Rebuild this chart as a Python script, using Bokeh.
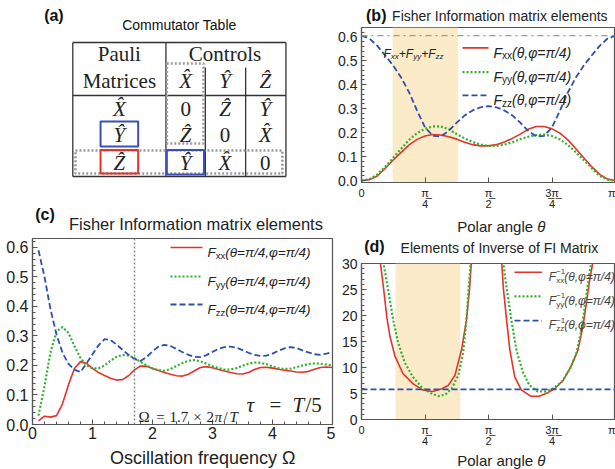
import numpy as np
from bokeh.plotting import figure
from bokeh.layouts import row, column
from bokeh.models import (Range1d, Label, FixedTicker, Span, BoxAnnotation,
                          ColumnDataSource, PrintfTickFormatter)
from bokeh.core.properties import value
from bokeh.embed import file_html
from bokeh.resources import INLINE

PI = np.pi
NAN = float("nan")

# ---------------- data ----------------
# (a) commutator table
table_title = "Commutator Table"
pauli_rows = ["X\u0302", "Y\u0302", "Z\u0302"]
control_cols = ["X\u0302", "Y\u0302", "Z\u0302"]
commutators = [["0", "Z\u0302", "Y\u0302"],
               ["Z\u0302", "0", "X\u0302"],
               ["Y\u0302", "X\u0302", "0"]]

# (b) FI matrix elements vs polar angle (theta = k*pi/32)
theta_b = [k * PI / 32 for k in range(33)]
fxx_b = [0.000, 0.004, 0.019, 0.052, 0.086, 0.118, 0.149, 0.172, 0.186, 0.192, 0.190,
         0.183, 0.173, 0.160, 0.150, 0.145, 0.145, 0.150, 0.161, 0.176, 0.194, 0.214,
         0.226, 0.226, 0.216, 0.198, 0.170, 0.133, 0.095, 0.058, 0.026, 0.006, 0.000]
fyy_b = [0.000, 0.006, 0.026, 0.058, 0.095, 0.133, 0.170, 0.198, 0.216, 0.226, 0.226,
         0.214, 0.194, 0.176, 0.161, 0.150, 0.145, 0.145, 0.150, 0.160, 0.173, 0.183,
         0.190, 0.192, 0.186, 0.172, 0.149, 0.118, 0.086, 0.052, 0.019, 0.004, 0.000]
fzz_b = [0.605, 0.593, 0.562, 0.522, 0.480, 0.430, 0.368, 0.292, 0.222, 0.187, 0.184,
         0.208, 0.242, 0.272, 0.293, 0.306, 0.311, 0.306, 0.293, 0.272, 0.242, 0.208,
         0.184, 0.187, 0.222, 0.292, 0.368, 0.430, 0.480, 0.522, 0.562, 0.593, 0.605]
fsum_b = 0.605
band_b = (0.385, 1.195)

# (c) FI elements vs oscillation frequency
omega_c = [round(0.1 * k, 1) for k in range(1, 51)]
fxx_c = [0.012, 0.028, 0.025, 0.030, 0.070, 0.135, 0.190, 0.213, 0.207, 0.190,
         0.176, 0.166, 0.157, 0.151, 0.152, 0.165, 0.185, 0.198, 0.197, 0.190,
         0.183, 0.176, 0.170, 0.165, 0.164, 0.170, 0.182, 0.193, 0.196, 0.192,
         0.186, 0.181, 0.176, 0.172, 0.171, 0.176, 0.186, 0.193, 0.194, 0.191,
         0.187, 0.184, 0.181, 0.178, 0.177, 0.180, 0.187, 0.193, 0.195, 0.193]
fyy_c = [0.030, 0.130, 0.245, 0.315, 0.330, 0.310, 0.265, 0.225, 0.200, 0.190,
         0.190, 0.200, 0.216, 0.229, 0.236, 0.234, 0.225, 0.212, 0.200, 0.190,
         0.184, 0.182, 0.188, 0.198, 0.208, 0.216, 0.218, 0.214, 0.206, 0.198,
         0.191, 0.186, 0.186, 0.191, 0.199, 0.206, 0.210, 0.209, 0.204, 0.197,
         0.191, 0.188, 0.189, 0.194, 0.200, 0.205, 0.207, 0.206, 0.203, 0.200]
fzz_c = [0.590, 0.500, 0.390, 0.305, 0.243, 0.205, 0.185, 0.178, 0.207, 0.238,
         0.268, 0.289, 0.286, 0.271, 0.253, 0.236, 0.222, 0.215, 0.228, 0.248,
         0.264, 0.270, 0.266, 0.256, 0.245, 0.236, 0.229, 0.228, 0.235, 0.246,
         0.256, 0.262, 0.264, 0.260, 0.252, 0.243, 0.236, 0.232, 0.233, 0.240,
         0.250, 0.258, 0.262, 0.259, 0.251, 0.244, 0.238, 0.236, 0.240, 0.245]
omega_mark = 1.7

# (d) elements of the inverse FI matrix
theta_dxx = [0.200, 0.233, 0.273, 0.313, 0.353, 0.413, 0.514, 0.635, 0.755, 0.876, 0.996,
             1.076, 1.156, 1.237, 1.297, 1.337, 1.357, 1.380, NAN,
             1.715, 1.735, 1.755, 1.795, 1.835, 1.895, 1.976, 2.096, 2.196, 2.297, 2.397,
             2.497, 2.598, 2.678, 2.738, 2.779, 2.819, 2.859, 2.890]
finv_xx = [45.0, 30.2, 25.2, 19.7, 15.9, 12.2, 8.8, 6.9, 5.7, 5.4, 5.9,
           6.6, 8.5, 13.4, 19.0, 25.2, 29.9, 45.0, NAN,
           45.0, 30.0, 25.2, 19.0, 13.4, 8.2, 5.7, 4.46, 4.46, 5.08, 6.0,
           7.6, 10.4, 13.4, 17.8, 22.1, 26.5, 30.0, 45.0]
theta_dyy = [0.240, 0.273, 0.333, 0.394, 0.454, 0.534, 0.635, 0.755, 0.876, 0.956, 1.036,
             1.117, 1.197, 1.257, 1.297, 1.325, 1.349, 1.370, NAN,
             1.725, 1.755, 1.795, 1.855, 1.915, 1.996, 2.076, 2.177, 2.277, 2.377, 2.478,
             2.578, 2.658, 2.719, 2.759, 2.798, 2.839, 2.870]
finv_yy = [45.0, 30.0, 24.6, 19.0, 14.7, 11.0, 8.2, 6.0, 4.9, 4.5, 4.8,
           6.0, 8.5, 12.8, 19.0, 25.2, 30.0, 45.0, NAN,
           45.0, 30.0, 25.2, 19.0, 13.4, 9.1, 6.6, 5.4, 5.4, 6.0, 7.25,
           9.7, 12.8, 17.2, 21.5, 25.8, 30.0, 45.0]
finv_zz = 5.8
band_d = (0.42, 1.22)

theta_ticks = [0, PI / 4, PI / 2, 3 * PI / 4, PI]
theta_tick_labels = ["0", "\u03c0\u0332\n4", "\u03c0\u0332\n2", "3\u0332\u03c0\u0332\n4", "\u03c0"]

# ---------------- style ----------------
RED = "#e5332a"
GREEN = "#2eb22e"
BLUE = "#2f4fae"
SHADE = "#fcebc9"
FRAME = "#555555"
TXT = "#222222"
SANS = "Liberation Sans"
SERIF = "Liberation Serif"

W = {' ': 0.278, '(': 0.333, ')': 0.333, ',': 0.278, '.': 0.278, '/': 0.278, '=': 0.584,
     '+': 0.584, '\u2212': 0.584, '-': 0.333, 'F': 0.611, 'x': 0.5, 'y': 0.5, 'z': 0.5,
     '\u03b8': 0.556, '\u03c6': 0.72, '\u03c0': 0.6, '1': 0.556, '4': 0.556}


def tw(s, size):
    return sum(W.get(c, 0.556) for c in s) * size


def mk_map(x0, x1, X0, X1, y0, y1, Yb, Yt):
    fx = lambda X: x0 + (X - X0) * (x1 - x0) / (X1 - X0)
    fy = lambda Y: y0 + (Yb - Y) * (y1 - y0) / (Yb - Yt)
    return fx, fy


IDENT = (lambda X: X, lambda Y: Y)


def put(p, m, X, Y, text, size, style="normal", align="left", baseline="middle",
        font=SANS, color=TXT, dx=0.0, dy=0.0):
    fx, fy = m
    p.add_layout(Label(x=fx(X), y=fy(Y), x_offset=dx, y_offset=-dy, text=text,
                       text_font=font, text_font_size=f"{size}px", text_font_style=style,
                       text_align=align, text_baseline=baseline, text_color=color))


def rich(p, m, X, Y, parts, font=SANS, color=TXT):
    off = 0.0
    for txt, size, style, dy, adv in parts:
        put(p, m, X, Y, txt, size, style, "left", "alphabetic", font, color, dx=off, dy=dy)
        if adv:
            off += tw(txt, size)


def strip(w, h, X0, Y0):
    """text-only panel whose data coordinates equal page pixels"""
    s = figure(width=w, height=h, x_range=Range1d(X0, X0 + w), y_range=Range1d(Y0 + h, Y0),
               output_backend="svg", toolbar_location=None, min_border=0,
               x_axis_location=None, y_axis_location=None)
    s.grid.visible = False
    s.outline_line_color = None
    return s


def make_fig(w, h, xr, yr, mbl, mbr, mbt, mbb):
    p = figure(width=w, height=h, x_range=Range1d(*xr), y_range=Range1d(*yr),
               output_backend="svg", toolbar_location=None,
               min_border_left=mbl, min_border_right=mbr,
               min_border_top=mbt, min_border_bottom=mbb)
    p.grid.visible = False
    p.outline_line_color = FRAME
    p.outline_line_width = 1.2
    for ax in (p.xaxis[0], p.yaxis[0]):
        ax.axis_line_color = FRAME
        ax.axis_line_width = 1.2
        ax.major_tick_in = 5
        ax.major_tick_out = 0
        ax.minor_tick_in = 3
        ax.minor_tick_out = 0
        ax.major_tick_line_color = FRAME
        ax.minor_tick_line_color = FRAME
        ax.major_label_text_font = SANS
        ax.major_label_text_color = TXT
        ax.major_label_standoff = 4
    return p


LSTY = [(RED, "solid", 1.6), (GREEN, "2 2", 2.2), (BLUE, "6 3", 1.8)]


def curves(p, x, ys):
    for yv, (c, d, lw) in zip(ys, LSTY):
        p.line(x, yv, line_color=c, line_dash=d, line_width=lw)


def legend_lines(p, m, X0, X1, Ys):
    fx, fy = m
    for Y, (c, d, lw) in zip(Ys, LSTY):
        p.line([fx(X0), fx(X1)], [fy(Y), fy(Y)], line_color=c, line_dash=d, line_width=lw)


def theta_axis(p):
    ax = p.xaxis[0]
    ax.ticker = FixedTicker(ticks=theta_ticks, minor_ticks=[])
    ax.major_label_overrides = {t: l for t, l in zip(theta_ticks, theta_tick_labels)}
    ax.major_label_text_font_size = "11px"
    ax.major_label_text_line_height = 0.95


# ---------------- (a) table ----------------
pa = strip(335, 200, 0, 0)
put(pa, IDENT, 13, 15, "(a)", 16, "bold", color="#111111")
put(pa, IDENT, 164, 24, table_title, 14, align="center", color="#111111")

L, R, T, B = 45, 283, 42, 176
colx = [149, 193, 238]
hline = 95
sub_top = 67
pa.segment(x0=[L, L, L, R, colx[0], colx[1], colx[2], L],
           y0=[T, B, T, T, T, sub_top, sub_top, hline],
           x1=[R, R, L, R, colx[0], colx[1], colx[2], R],
           y1=[T, B, B, B, B, B, B, hline], line_color="#333333", line_width=1.3)

cx = [97, 171, 215, 260]
ry = [108, 134, 162]
src_head = ColumnDataSource(dict(x=[cx[0], cx[0], 215], y=[53, 80, 53],
                                 t=["Pauli", "Matrices", "Controls"]))
pa.text("x", "y", text="t", source=src_head, text_font=value(SERIF), text_font_size="21px",
        text_align="center", text_baseline="middle", text_color="#222222")
hx, hy, ht = [], [], []
for j, c in enumerate(control_cols):
    hx.append(cx[j + 1]); hy.append(80); ht.append(c)
for i, r in enumerate(pauli_rows):
    hx.append(cx[0]); hy.append(ry[i]); ht.append(r)
    for j in range(3):
        hx.append(cx[j + 1]); hy.append(ry[i]); ht.append(commutators[i][j])
styles = ["normal" if t == "0" else "italic" for t in ht]
src_cells = ColumnDataSource(dict(x=hx, y=hy, t=ht, s=styles))
pa.text("x", "y", text="t", source=src_cells, text_font=value(SERIF), text_font_size="21px",
        text_font_style="s", text_align="center", text_baseline="middle", text_color="#222222")
pa.quad(left=[150, 48], right=[191, 279], top=[63, 150], bottom=[143, 173],
        fill_alpha=0, line_color="#9a9a9a", line_dash="2 2", line_width=2.6)
pa.quad(left=[76, 150], right=[118, 191.5], top=[121, 149.5], bottom=[146, 174],
        fill_alpha=0, line_color="#3a50b8", line_width=2)
pa.quad(left=[76], right=[118], top=[149.5], bottom=[173],
        fill_alpha=0, line_color="#e0342c", line_width=2)

# ---------------- (b) ----------------
hb = strip(280, 26, 335, 0)
put(hb, IDENT, 340, 15, "(b)", 16, "bold", color="#111111")
put(hb, IDENT, 487.5, 15, "Fisher Information matrix elements", 14, align="center")

pb = make_fig(280, 186, (0, PI), (-0.008, 0.639), 26, 0, 1, 25)
mb = mk_map(0, PI, 361, 615, -0.008, 0.639, 187, 27)
pb.add_layout(BoxAnnotation(left=band_b[0], right=band_b[1], fill_color=SHADE, fill_alpha=1,
                            line_color=None, level="underlay"))
pb.add_layout(Span(location=fsum_b, dimension="width", line_color="#9a9a9a",
                   line_dash="dashdot", line_width=1.2))
curves(pb, theta_b, [fxx_b, fyy_b, fzz_b])
theta_axis(pb)
pb.yaxis[0].ticker = FixedTicker(ticks=[0.1 * k for k in range(7)],
                                 minor_ticks=[0.02 * k for k in range(32)])
pb.yaxis[0].formatter = PrintfTickFormatter(format="%.1f")
pb.yaxis[0].major_label_text_font_size = "14px"
rich(pb, mb, 383, 54, [("F", 12, "italic", 0, True), ("xx", 8, "italic", 3, True),
                       ("+", 12, "italic", 0, True), ("F", 12, "italic", 0, True),
                       ("yy", 8, "italic", 3, True), ("+", 12, "italic", 0, True),
                       ("F", 12, "italic", 0, True), ("zz", 8, "italic", 3, True)])
legend_lines(pb, mb, 462, 488, [48, 73, 97])
for Y, s in zip([48, 73, 97], ["xx", "yy", "zz"]):
    rich(pb, mb, 493, Y + 5, [("F", 14, "italic", 0, True), (s, 10, "normal", 3, True),
                              ("(\u03b8,\u03c6=\u03c0/4)", 14, "italic", 0, True)])

fb = strip(280, 25, 335, 212)
put(fb, IDENT, 488, 226, "Polar angle ", 15, align="right", dx=37)
put(fb, IDENT, 488, 226, "\u03b8", 15, "italic", align="left", dx=37)

# ---------------- (c) ----------------
hc = strip(335, 37, 0, 200)
put(hc, IDENT, 3, 214, "(c)", 16, "bold", color="#111111")
put(hc, IDENT, 182.5, 223, "Fisher Information matrix elements", 16.5, align="center")

pc = make_fig(335, 209, (0, 5), (0, 0.63), 32, 3, 1, 22)
mc = mk_map(0, 5, 32, 332, 0, 0.63, 424, 238)
pc.add_layout(Span(location=omega_mark, dimension="height", line_color="#8a8a8a",
                   line_dash="2 2", line_width=1.5))
curves(pc, omega_c, [fxx_c, fyy_c, fzz_c])
pc.xaxis[0].ticker = FixedTicker(ticks=[0, 1, 2, 3, 4, 5],
                                 minor_ticks=[0.2 * k for k in range(26)])
pc.yaxis[0].ticker = FixedTicker(ticks=[0.1 * k for k in range(7)],
                                 minor_ticks=[0.02 * k for k in range(32)])
pc.yaxis[0].formatter = PrintfTickFormatter(format="%.1f")
pc.xaxis[0].major_label_text_font_size = "16px"
pc.yaxis[0].major_label_text_font_size = "16px"
pc.xaxis[0].major_label_standoff = 2
legend_lines(pc, mc, 170, 202, [247, 276, 304])
for Y, s in zip([247, 276, 304], ["xx", "yy", "zz"]):
    rich(pc, mc, 207, Y + 5, [("F", 13.5, "italic", 0, True), (s, 9.5, "normal", 3, True),
                              ("(\u03b8=\u03c0/4,\u03c6=\u03c0/4)", 13.5, "italic", 0, True)])
for X, t, st, al in [(138, "\u03a9", "normal", "left"), (160, "=", "normal", "center"),
                     (169, "1.7", "normal", "left"), (197, "\u00d7", "normal", "center"),
                     (206, "2", "normal", "left"), (214, "\u03c0", "italic", "left"),
                     (223, "/", "normal", "left"), (229, "T", "italic", "left")]:
    put(pc, mc, X, 416, t, 15, st, align=al, baseline="alphabetic", font=SERIF)
for X, t, st, al in [(246, "\u03c4", "italic", "left"), (275, "=", "normal", "center"),
                     (292, "T", "italic", "left"), (305, "/5", "normal", "left")]:
    put(pc, mc, X, 404, t, 21, st, align=al, baseline="alphabetic", font=SERIF)

fc = strip(335, 23, 0, 446)
put(fc, IDENT, 190, 457, "Oscillation frequency \u03a9", 18, align="center")

# ---------------- (d) ----------------
hd = strip(280, 19, 335, 237)
put(hd, IDENT, 338, 245.5, "(d)", 16, "bold", color="#111111")
put(hd, IDENT, 487, 247.5, "Elements of Inverse of FI Matrix", 14, align="center")

pd_ = make_fig(280, 193, (0, PI), (0, 30), 21, 0, 7, 25)
md = mk_map(0, PI, 356, 615, 0, 30, 424, 263)
pd_.add_layout(BoxAnnotation(left=band_d[0], right=band_d[1], fill_color=SHADE, fill_alpha=1,
                             line_color=None, level="underlay"))
pd_.line(theta_dxx, finv_xx, line_color=RED, line_width=1.6)
pd_.line(theta_dyy, finv_yy, line_color=GREEN, line_dash="2 2", line_width=2.2)
pd_.line([0, PI], [finv_zz, finv_zz], line_color=BLUE, line_dash="6 3", line_width=1.8)
theta_axis(pd_)
pd_.yaxis[0].ticker = FixedTicker(ticks=[0, 5, 10, 15, 20, 25, 30],
                                  minor_ticks=list(range(31)))
pd_.yaxis[0].major_label_text_font_size = "14px"
legend_lines(pd_, md, 512, 540, [272, 297, 322])
for Y, s in zip([272, 297, 322], ["xx", "yy", "zz"]):
    rich(pd_, md, 547, Y + 4.5, [("F", 12, "italic", 0, True), ("\u22121", 8, "normal", -5, False),
                                 (s, 8, "normal", 3.5, True),
                                 ("(\u03b8,\u03c6=\u03c0/4)", 12, "italic", 0, True)],
         color="#444444")

fd = strip(280, 20, 335, 449)
put(fd, IDENT, 488, 460, "Polar angle ", 15, align="right", dx=37)
put(fd, IDENT, 488, 460, "\u03b8", 15, "italic", align="left", dx=37)

layout = row(column(pa, hc, pc, fc), column(hb, pb, fb, hd, pd_, fd))
open("out.html", "w").write(file_html(layout, INLINE))
